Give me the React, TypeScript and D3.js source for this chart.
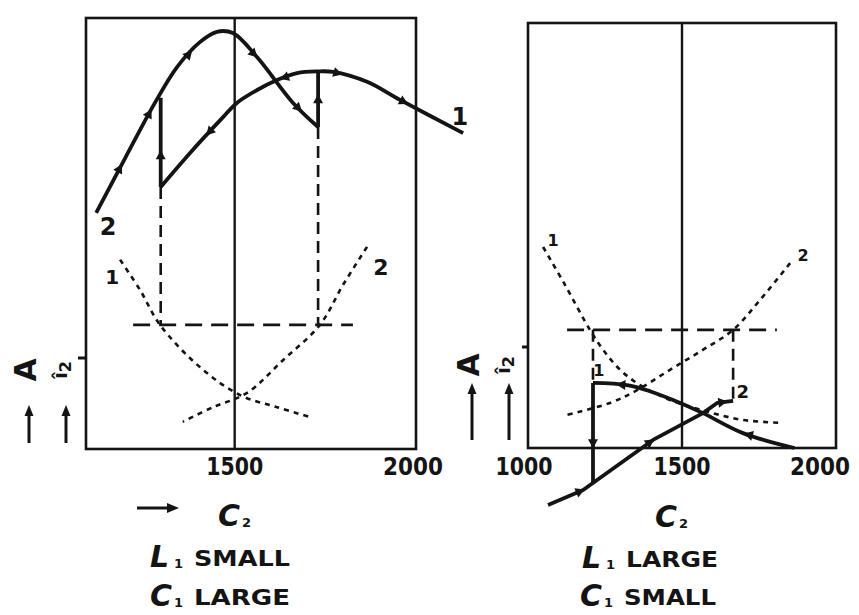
import React from 'react';
import * as d3 from 'd3';

// ---------- data (C2 on x, arbitrary amplitude units 0..100 on y) ----------
const leftXDomain = [1090, 2000];
const rightXDomain = [1000, 2000];
const yDomain = [0, 100];
const leftTickValues = [1500, 2000];
const rightTickValues = [1000, 1500, 2000];
const centerC2 = 1500;

// left panel (L1 small, C1 large)
const leftSolid2: [number, number][] = [[1118, 54.8], [1198, 67.5], [1280, 80.3], [1341, 88.6], [1404, 94.4], [1451, 96.8], [1495, 96.5], [1562, 90.9], [1661, 80.3], [1730, 74.7]];
const leftSolid1: [number, number][] = [[1296, 60.8], [1377, 68.7], [1468, 77.0], [1506, 80.3], [1562, 83.3], [1617, 85.6], [1672, 87.2], [1727, 87.6], [1771, 87.5], [1865, 85.2], [1956, 81.0], [2130, 73.3]];
const leftJumpA: [number, number][] = [[1296, 60.8], [1296, 81.5]];
const leftJumpB: [number, number][] = [[1730, 74.7], [1730, 87.4]];
const leftDotted1: [number, number][] = [[1184, 43.9], [1239, 36.9], [1294, 28.8], [1404, 19.0], [1515, 12.5], [1617, 9.7], [1708, 7.4]];
const leftDotted2: [number, number][] = [[1865, 46.9], [1799, 38.1], [1735, 28.8], [1633, 20.6], [1534, 13.0], [1440, 9.7], [1357, 6.3]];
const leftLevel: [number, number][] = [[1220, 28.8], [1826, 28.8]];
const leftDropA: [number, number][] = [[1296, 60.8], [1296, 28.8]];
const leftDropB: [number, number][] = [[1730, 74.7], [1730, 28.8]];

// right panel (L1 large, C1 small)
const rightDotted1: [number, number][] = [[1049, 47.3], [1120, 38.4], [1201, 27.8], [1244, 23.1], [1299, 18.4], [1364, 14.8], [1461, 11.3], [1575, 8.7], [1698, 6.6], [1828, 5.9]];
const rightDotted2: [number, number][] = [[1851, 43.5], [1753, 34.8], [1666, 27.8], [1568, 23.1], [1461, 18.4], [1354, 13.6], [1266, 10.6], [1127, 7.8]];
const rightLevel: [number, number][] = [[1127, 27.8], [1808, 27.8]];
const rightDropA: [number, number][] = [[1211, 27.8], [1211, 15.3]];
const rightDropB: [number, number][] = [[1666, 27.8], [1666, 11.1]];
const rightSolid1: [number, number][] = [[1211, 15.3], [1321, 14.8], [1386, 13.6], [1471, 11.3], [1568, 8.2], [1698, 3.5], [1865, 0]];
const rightSolid2: [number, number][] = [[1065, -13.4], [1179, -9.9], [1406, 1.9], [1568, 8.2], [1614, 10.6], [1666, 11.1]];
const rightJump: [number, number][] = [[1211, 15.3], [1211, -8.2]];

// arrowheads: [series key, segment, fraction, direction]
const leftArrows: [string, number, number, number][] = [
  ['s2', 0, 0.8, 1], ['s2', 1, 0.8, 1], ['s2', 3, 0.5, 1], ['s2', 6, 0.85, 1], ['s2', 8, 0.2, 1],
  ['s1', 1, 0.6, -1], ['s1', 5, 0.4, -1], ['s1', 8, 0.12, 1], ['s1', 10, 0.05, 1],
  ['jA', 0, 0.35, 1], ['jB', 0, 0.5, 1],
];
const rightArrows: [string, number, number, number][] = [
  ['j', 0, 0.6, 1], ['s1', 0, 0.85, -1], ['s1', 5, 0.12, -1],
  ['s2', 0, 0.9, 1], ['s2', 1, 0.95, 1], ['s2', 4, 0.3, 1],
];
// horizontal nudges for tick labels (label placement only)
const leftTickNudge = [0, -3];
const rightTickNudge = [-4, 0, -16];

// ---------- geometry ----------
const W = 859, H = 615;
const L = { x0: 86, x1: 416, y0: 449, y1: 18 };
const R = { x0: 528, x1: 836, y0: 448, y1: 23 };
const INK = '#141414';
const FONT = '"DejaVu Sans", "Liberation Sans", sans-serif';

const lxs = d3.scaleLinear().domain(leftXDomain).range([L.x0, L.x1]);
const lys = d3.scaleLinear().domain(yDomain).range([L.y0, L.y1]);
const rxs = d3.scaleLinear().domain(rightXDomain).range([R.x0, R.x1]);
const rys = d3.scaleLinear().domain(yDomain).range([R.y0, R.y1]);

function mkLine(xs: any, ys: any, smooth: boolean) {
  const g = d3.line<[number, number]>().x(d => xs(d[0])).y(d => ys(d[1]));
  return smooth ? g.curve(d3.curveCatmullRom.alpha(0.5)) : g;
}

function arrowPath(pts: [number, number][], seg: number, t: number, dir: number, xs: any, ys: any) {
  const a = pts[seg], b = pts[seg + 1];
  const x0 = xs(a[0]), y0 = ys(a[1]), x1 = xs(b[0]), y1 = ys(b[1]);
  const px = x0 + (x1 - x0) * t, py = y0 + (y1 - y0) * t;
  let ang = Math.atan2(y1 - y0, x1 - x0);
  if (dir < 0) ang += Math.PI;
  const c = Math.cos(ang), s = Math.sin(ang);
  const len = 9, half = 5;
  const tip = [px + c * len * 0.6, py + s * len * 0.6];
  const bl = [px - c * len * 0.4 - s * half, py - s * len * 0.4 + c * half];
  const br = [px - c * len * 0.4 + s * half, py - s * len * 0.4 - c * half];
  return `M${tip[0]},${tip[1]}L${bl[0]},${bl[1]}L${br[0]},${br[1]}Z`;
}

const Label = ({ x, y, t, size = 22 }: any) => (
  <text x={x} y={y} fontFamily={FONT} fontWeight="bold" fontSize={size} textAnchor="middle" dominantBaseline="central" fill={INK}>{t}</text>
);

const UpArrow = ({ x, y0, y1 }: any) => (
  <g>
    <line x1={x} y1={y0} x2={x} y2={y1 + 8} stroke={INK} strokeWidth={3} />
    <path d={`M${x},${y1}L${x - 4.5},${y1 + 11}L${x + 4.5},${y1 + 11}Z`} fill={INK} />
  </g>
);

const YLabels = ({ xA, xI, yc, arrowTop, arrowBottom }: any) => (
  <g>
    <text transform={`translate(${xA},${yc}) rotate(-90)`} fontFamily={FONT} fontWeight="bold" fontSize={30} textAnchor="middle" dominantBaseline="central" fill={INK}>A</text>
    <text transform={`translate(${xI},${yc}) rotate(-90)`} fontFamily={FONT} fontWeight="bold" fontSize={20} textAnchor="middle" dominantBaseline="central" fill={INK}>î<tspan fontSize={16} dy={5}>2</tspan></text>
    <UpArrow x={xA + 4} y0={arrowBottom} y1={arrowTop} />
    <UpArrow x={xI + 6} y0={arrowBottom} y1={arrowTop} />
  </g>
);

const Caption = ({ x, y, big, sub, word, wordLen }: any) => (
  <g fill={INK} fontFamily={FONT} fontWeight="bold">
    <text x={x} y={y} fontSize={30} fontStyle="italic">{big}</text>
    <text x={x + 24} y={y + 1} fontSize={13}>{sub}</text>
    {word ? <text x={x + 44} y={y - 1} fontSize={22} textLength={wordLen} lengthAdjust="spacingAndGlyphs">{word}</text> : null}
  </g>
);

function Panel({ xs, ys, box, ticks, nudge, solids, dotted, dashedH, dashedV, arrows, series, labels }: any) {
  const smooth = mkLine(xs, ys, true);
  const straight = mkLine(xs, ys, false);
  return (
    <g>
      <rect x={box.x0} y={box.y1} width={box.x1 - box.x0} height={box.y0 - box.y1} fill="none" stroke={INK} strokeWidth={2.6} />
      <line x1={xs(centerC2)} x2={xs(centerC2)} y1={box.y1} y2={box.y0} stroke={INK} strokeWidth={2.4} />
      {ticks.map((t: number, i: number) => (
        <text key={t} x={xs(t) + nudge[i]} y={467} fontFamily={FONT} fontWeight="bold" fontSize={24} textAnchor="middle" dominantBaseline="central" textLength={t === 2000 ? 60 : 57} lengthAdjust="spacingAndGlyphs" fill={INK}>{t}</text>
      ))}
      {dotted.map((d: any, i: number) => (
        <path key={'d' + i} d={smooth(d) as string} fill="none" stroke={INK} strokeWidth={2.6} strokeDasharray="5,5" />
      ))}
      {dashedH.map((d: any, i: number) => (
        <path key={'h' + i} d={straight(d) as string} fill="none" stroke={INK} strokeWidth={2.6} strokeDasharray="17,9" />
      ))}
      {dashedV.map((d: any, i: number) => (
        <path key={'v' + i} d={straight(d) as string} fill="none" stroke={INK} strokeWidth={2.6} strokeDasharray="12,7" />
      ))}
      {solids.map((s: any, i: number) => (
        <path key={'s' + i} d={(s.smooth ? smooth : straight)(s.pts) as string} fill="none" stroke={INK} strokeWidth={3.8} strokeLinejoin="round" />
      ))}
      {arrows.map((a: any, i: number) => (
        <path key={'a' + i} d={arrowPath(series[a[0]], a[1], a[2], a[3], xs, ys)} fill={INK} />
      ))}
      {labels.map((l: any, i: number) => (
        <Label key={'l' + i} x={xs(l[0])} y={ys(l[1])} t={l[2]} size={l[3]} />
      ))}
    </g>
  );
}

export default function App() {
  return (
    <svg width={W} height={H} viewBox={`0 0 ${W} ${H}`} style={{ position: 'absolute', left: 0, top: 0, background: '#fff' }}>
      <rect width={W} height={H} fill="#fff" />
      <Panel
        xs={lxs} ys={lys} box={L} ticks={leftTickValues} nudge={leftTickNudge}
        solids={[{ pts: leftSolid2, smooth: true }, { pts: leftSolid1, smooth: true }, { pts: leftJumpA }, { pts: leftJumpB }]}
        dotted={[leftDotted1, leftDotted2]}
        dashedH={[leftLevel]}
        dashedV={[leftDropA, leftDropB]}
        arrows={leftArrows}
        series={{ s1: leftSolid1, s2: leftSolid2, jA: leftJumpA, jB: leftJumpB }}
        labels={[[1151, 51.5, '2', 24], [2121, 77.0, '1', 24], [1162, 39.9, '1', 20], [1903, 42.2, '2', 22]]}
      />
      <Panel
        xs={rxs} ys={rys} box={R} ticks={rightTickValues} nudge={rightTickNudge}
        solids={[{ pts: rightSolid1, smooth: true }, { pts: rightSolid2, smooth: false }, { pts: rightJump }]}
        dotted={[rightDotted1, rightDotted2]}
        dashedH={[rightLevel]}
        dashedV={[rightDropA, rightDropB]}
        arrows={rightArrows}
        series={{ s1: rightSolid1, s2: rightSolid2, j: rightJump }}
        labels={[[1081, 48.9, '1', 16], [1893, 45.4, '2', 16], [1230, 18.2, '1', 16], [1697, 13.4, '2', 18]]}
      />
      {/* small y ticks */}
      <line x1={L.x0 - 8} x2={L.x0} y1={358} y2={358} stroke={INK} strokeWidth={3} />
      <line x1={R.x0 - 6} x2={R.x0} y1={347} y2={347} stroke={INK} strokeWidth={3} />
      <YLabels xA={25} xI={60} yc={370} arrowTop={405} arrowBottom={443} />
      <YLabels xA={468} xI={503} yc={365} arrowTop={383} arrowBottom={440} />
      {/* x axis captions */}
      <g>
        <line x1={137} x2={170} y1={508} y2={508} stroke={INK} strokeWidth={3} />
        <path d="M179,508L167,503L167,513Z" fill={INK} />
      </g>
      <Caption x={218} y={526} big="C" sub="2" />
      <Caption x={655} y={527} big="C" sub="2" />
      <Caption x={150} y={567} big="L" sub="1" word="SMALL" wordLen={96} />
      <Caption x={150} y={606} big="C" sub="1" word="LARGE" wordLen={96} />
      <Caption x={582} y={568} big="L" sub="1" word="LARGE" wordLen={92} />
      <Caption x={580} y={606} big="C" sub="1" word="SMALL" wordLen={92} />
    </svg>
  );
}
